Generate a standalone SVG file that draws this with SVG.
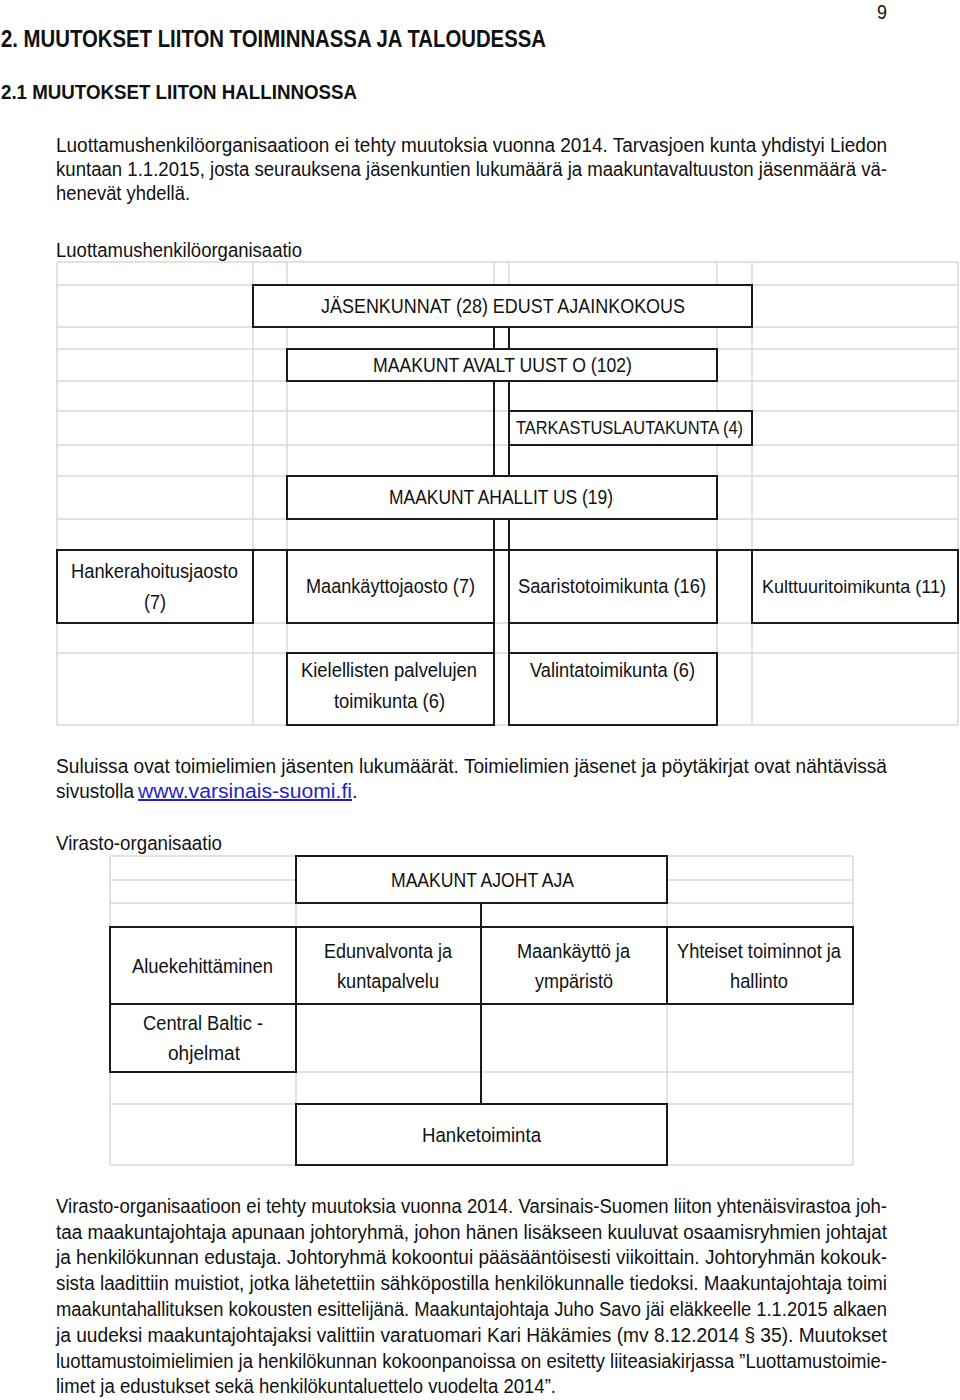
<svg xmlns="http://www.w3.org/2000/svg" width="960" height="1400" viewBox="0 0 960 1400">
<style>
.bg{fill:#ffffff}
.grid{stroke:#d9d9d9;stroke-width:1.5;fill:none}
.box{fill:#ffffff;stroke:#1a1a1a;stroke-width:2}
.conn{stroke:#1a1a1a;stroke-width:2;fill:none}
.body{font-family:"Liberation Sans",Arial,sans-serif;font-size:20px;fill:#111111}
.head{font-family:"Liberation Sans",Arial,sans-serif;font-size:23.5px;fill:#111111;font-weight:bold}
.lbl{font-family:"Liberation Sans",Arial,sans-serif;font-size:20.5px;fill:#111111}
.lbls{font-family:"Liberation Sans",Arial,sans-serif;font-size:18px;fill:#111111}
.link{fill:#1f1fd0;text-decoration:underline}
</style>
<rect class="bg" x="0" y="0" width="960" height="1400"/>

<g id="page-text">
<text class="body" x="877" y="19" textLength="10" lengthAdjust="spacingAndGlyphs">9</text>
<text class="head" x="1" y="47" textLength="545" lengthAdjust="spacingAndGlyphs">2. MUUTOKSET LIITON TOIMINNASSA JA TALOUDESSA</text>
<text class="head" x="1" y="99" textLength="356" lengthAdjust="spacingAndGlyphs" style="font-size:21px">2.1 MUUTOKSET LIITON HALLINNOSSA</text>
<text class="body" x="56" y="152" textLength="831" lengthAdjust="spacingAndGlyphs">Luottamushenkilöorganisaatioon ei tehty muutoksia vuonna 2014. Tarvasjoen kunta yhdistyi Liedon</text>
<text class="body" x="56" y="176" textLength="831" lengthAdjust="spacingAndGlyphs">kuntaan 1.1.2015, josta seurauksena jäsenkuntien lukumäärä ja maakuntavaltuuston jäsenmäärä vä-</text>
<text class="body" x="56" y="200" textLength="134" lengthAdjust="spacingAndGlyphs">henevät yhdellä.</text>
<text class="body" x="56" y="257" textLength="246" lengthAdjust="spacingAndGlyphs">Luottamushenkilöorganisaatio</text>
</g>

<g id="grid-luottamus" class="grid">
<path d="M57,262V725M253,262V725M287,262V725M494,262V725M509,262V725M717,262V725M752,262V725M958,262V725"/>
<path d="M57,262H958M57,285H958M57,327H958M57,349H958M57,381H958M57,411H958M57,445H958M57,476H958M57,519H958M57,550H958M57,623H958M57,653H958M57,725H958"/>
</g>

<g id="connectors-luottamus">
<path class="conn" d="M494,327V653M509,327V653M253,550H287M494,550H509M717,550H752"/>
</g>

<g id="n-jasenkunnat"><rect class="box" x="253" y="285" width="499" height="42"/>
<text class="lbl" x="321" y="313" textLength="364" lengthAdjust="spacingAndGlyphs">JÄSENKUNNAT (28) EDUST AJAINKOKOUS</text></g>
<g id="n-valtuusto"><rect class="box" x="287" y="349" width="430" height="32"/>
<text class="lbl" x="373" y="372" textLength="259" lengthAdjust="spacingAndGlyphs">MAAKUNT AVALT UUST O (102)</text></g>
<g id="n-tarkastus"><rect class="box" x="509" y="411" width="243" height="34"/>
<text class="lbls" x="516" y="434" textLength="227" lengthAdjust="spacingAndGlyphs">TARKASTUSLAUTAKUNTA (4)</text></g>
<g id="n-hallitus"><rect class="box" x="287" y="476" width="430" height="43"/>
<text class="lbl" x="389" y="504" textLength="224" lengthAdjust="spacingAndGlyphs">MAAKUNT AHALLIT US (19)</text></g>
<g id="n-hanke"><rect class="box" x="57" y="550" width="196" height="73"/>
<text class="lbl" x="71" y="578" textLength="167" lengthAdjust="spacingAndGlyphs">Hankerahoitusjaosto</text>
<text class="lbl" x="144" y="609" textLength="22" lengthAdjust="spacingAndGlyphs">(7)</text></g>
<g id="n-maankaytto"><rect class="box" x="287" y="550" width="207" height="73"/>
<text class="lbl" x="306" y="593" textLength="169" lengthAdjust="spacingAndGlyphs">Maankäyttojaosto (7)</text></g>
<g id="n-saaristo"><rect class="box" x="509" y="550" width="208" height="73"/>
<text class="lbl" x="518" y="593" textLength="188" lengthAdjust="spacingAndGlyphs">Saaristotoimikunta (16)</text></g>
<g id="n-kulttuuri"><rect class="box" x="752" y="550" width="206" height="73"/>
<text class="lbl" x="762" y="593" textLength="184" lengthAdjust="spacingAndGlyphs" style="font-size:18.5px">Kulttuuritoimikunta (11)</text></g>
<g id="n-kielelliset"><rect class="box" x="287" y="653" width="207" height="72"/>
<text class="lbl" x="301" y="677" textLength="176" lengthAdjust="spacingAndGlyphs">Kielellisten palvelujen</text>
<text class="lbl" x="334" y="708" textLength="111" lengthAdjust="spacingAndGlyphs">toimikunta (6)</text></g>
<g id="n-valinta"><rect class="box" x="509" y="653" width="208" height="72"/>
<text class="lbl" x="530" y="677" textLength="165" lengthAdjust="spacingAndGlyphs">Valintatoimikunta (6)</text></g>

<g id="middle-text">
<text class="body" x="56" y="773" textLength="831" lengthAdjust="spacingAndGlyphs">Suluissa ovat toimielimien jäsenten lukumäärät. Toimielimien jäsenet ja pöytäkirjat ovat nähtävissä</text>
<text class="body" x="56" y="798"><tspan textLength="78" lengthAdjust="spacingAndGlyphs">sivustolla</tspan> <tspan x="138" class="link" textLength="214" lengthAdjust="spacingAndGlyphs">www.varsinais-suomi.fi</tspan><tspan x="352">.</tspan></text>
<text class="body" x="56" y="850" textLength="166" lengthAdjust="spacingAndGlyphs">Virasto-organisaatio</text>
</g>

<g id="grid-virasto" class="grid">
<path d="M110,856V1165M296,856V1165M481,856V1165M667,856V1165M853,856V1165"/>
<path d="M110,856H853M110,880H853M110,903H853M110,927H853M110,1004H853M110,1072H853M110,1104H853M110,1165H853"/>
</g>

<g id="connectors-virasto">
<path class="conn" d="M481,903V1104"/>
</g>

<g id="n-johtaja"><rect class="box" x="296" y="856" width="371" height="47"/>
<text class="lbl" x="391" y="887" textLength="183" lengthAdjust="spacingAndGlyphs">MAAKUNT AJOHT AJA</text></g>
<g id="n-alue"><rect class="box" x="110" y="927" width="186" height="77"/>
<text class="lbl" x="132" y="973" textLength="141" lengthAdjust="spacingAndGlyphs">Aluekehittäminen</text></g>
<g id="n-edunvalvonta"><rect class="box" x="296" y="927" width="185" height="77"/>
<text class="lbl" x="324" y="958" textLength="128" lengthAdjust="spacingAndGlyphs">Edunvalvonta ja</text>
<text class="lbl" x="337" y="988" textLength="102" lengthAdjust="spacingAndGlyphs">kuntapalvelu</text></g>
<g id="n-maankaytto-ymp"><rect class="box" x="481" y="927" width="186" height="77"/>
<text class="lbl" x="517" y="958" textLength="113" lengthAdjust="spacingAndGlyphs">Maankäyttö ja</text>
<text class="lbl" x="535" y="988" textLength="78" lengthAdjust="spacingAndGlyphs">ympäristö</text></g>
<g id="n-yhteiset"><rect class="box" x="667" y="927" width="186" height="77"/>
<text class="lbl" x="677" y="958" textLength="164" lengthAdjust="spacingAndGlyphs">Yhteiset toiminnot ja</text>
<text class="lbl" x="730" y="988" textLength="58" lengthAdjust="spacingAndGlyphs">hallinto</text></g>
<g id="n-central"><rect class="box" x="110" y="1004" width="186" height="68"/>
<text class="lbl" x="143" y="1030" textLength="120" lengthAdjust="spacingAndGlyphs">Central Baltic -</text>
<text class="lbl" x="168" y="1060" textLength="72" lengthAdjust="spacingAndGlyphs">ohjelmat</text></g>
<g id="n-hanketoiminta"><rect class="box" x="296" y="1104" width="371" height="61"/>
<text class="lbl" x="422" y="1142" textLength="119" lengthAdjust="spacingAndGlyphs">Hanketoiminta</text></g>

<g id="bottom-text">
<text class="body" x="56" y="1213" textLength="831" lengthAdjust="spacingAndGlyphs">Virasto-organisaatioon ei tehty muutoksia vuonna 2014. Varsinais-Suomen liiton yhtenäisvirastoa joh-</text>
<text class="body" x="56" y="1239" textLength="831" lengthAdjust="spacingAndGlyphs">taa maakuntajohtaja apunaan johtoryhmä, johon hänen lisäkseen kuuluvat osaamisryhmien johtajat</text>
<text class="body" x="56" y="1264" textLength="831" lengthAdjust="spacingAndGlyphs">ja henkilökunnan edustaja. Johtoryhmä kokoontui pääsääntöisesti viikoittain. Johtoryhmän kokouk-</text>
<text class="body" x="56" y="1290" textLength="831" lengthAdjust="spacingAndGlyphs">sista laadittiin muistiot, jotka lähetettiin sähköpostilla henkilökunnalle tiedoksi. Maakuntajohtaja toimi</text>
<text class="body" x="56" y="1316" textLength="831" lengthAdjust="spacingAndGlyphs">maakuntahallituksen kokousten esittelijänä. Maakuntajohtaja Juho Savo jäi eläkkeelle 1.1.2015 alkaen</text>
<text class="body" x="56" y="1342" textLength="831" lengthAdjust="spacingAndGlyphs">ja uudeksi maakuntajohtajaksi valittiin varatuomari Kari Häkämies (mv 8.12.2014 § 35). Muutokset</text>
<text class="body" x="56" y="1368" textLength="831" lengthAdjust="spacingAndGlyphs">luottamustoimielimien ja henkilökunnan kokoonpanoissa on esitetty liiteasiakirjassa ”Luottamustoimie-</text>
<text class="body" x="56" y="1393" textLength="500" lengthAdjust="spacingAndGlyphs">limet ja edustukset sekä henkilökuntaluettelo vuodelta 2014”.</text>
</g>
</svg>
